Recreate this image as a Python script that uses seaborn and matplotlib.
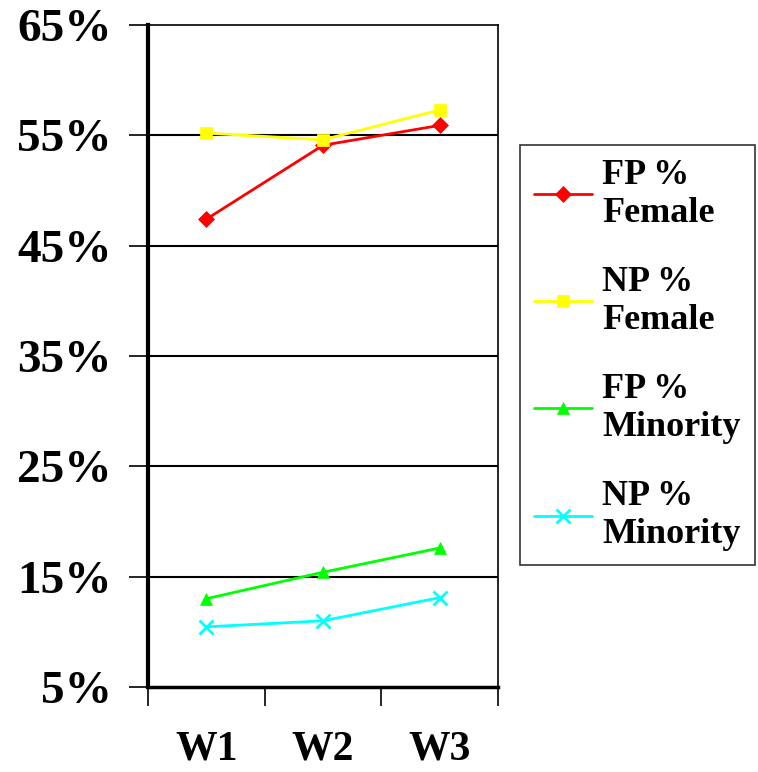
import pandas as pd
import seaborn as sns
import matplotlib.pyplot as plt

waves = ["W1", "W2", "W3"]
fp_female = [47.4, 54.1, 55.9]
np_female = [55.2, 54.6, 57.3]
fp_minority = [13.0, 15.4, 17.6]
np_minority = [10.45, 11.0, 13.1]
series_names = ["FP %\nFemale", "NP %\nFemale", "FP %\nMinority", "NP %\nMinority"]
y_ticks = [5, 15, 25, 35, 45, 55, 65]

sns.set_style("white")
plt.rcParams["font.family"] = ["Liberation Serif", "DejaVu Serif"]
plt.rcParams["font.weight"] = "bold"
plt.rcParams["text.color"] = "black"
plt.rcParams["xtick.color"] = "black"
plt.rcParams["ytick.color"] = "black"

series = [fp_female, np_female, fp_minority, np_minority]
colors = ["#ff0000", "#ffff00", "#00ff00", "#00ffff"]
markers = ["D", "s", "^", "x"]
msizes = [8, 9, 9, 10]

fig = plt.figure(figsize=(7.58, 7.72), dpi=100)
ax = fig.add_axes([148 / 758, 1 - 687 / 772, 350 / 758, 662 / 772])

for name, vals, c, m, ms in zip(series_names, series, colors, markers, msizes):
    df = pd.DataFrame({"wave": waves, "pct": vals})
    sns.lineplot(data=df, x="wave", y="pct", color=c, marker=m, markersize=ms,
                 markeredgecolor=c, markeredgewidth=2 if m == "x" else 0.5,
                 linewidth=2, label=name, ax=ax)

ax.set_xlim(-0.5, 2.5)
ax.set_ylim(5, 65)
ax.set_yticks(y_ticks)
ax.set_yticklabels([f"{t}%" for t in y_ticks])
ax.set_xlabel("")
ax.set_ylabel("")
for t in y_ticks[1:-1]:
    ax.axhline(t, color="black", linewidth=1.5, zorder=0)

ax.set_xticks([0, 1, 2])
ax.set_xticks([-0.5, 0.5, 1.5, 2.5], minor=True)
ax.tick_params(axis="x", which="major", length=0, pad=31, labelsize=30)
ax.tick_params(axis="x", which="minor", length=14, width=1.2, direction="out", bottom=True)
ax.tick_params(axis="y", length=14, width=1.2, direction="out", left=True, pad=12, labelsize=34)
for lbl in ax.get_xticklabels() + ax.get_yticklabels():
    lbl.set_fontweight("bold")

for side in ["top", "right", "bottom", "left"]:
    ax.spines[side].set_visible(True)
    ax.spines[side].set_color("black")
ax.spines["left"].set_linewidth(3)
ax.spines["bottom"].set_linewidth(2.5)
ax.spines["top"].set_linewidth(1.2)
ax.spines["right"].set_linewidth(1.2)

leg = ax.legend(loc="center left", bbox_to_anchor=(520 / 758, 1 - 355 / 772),
                bbox_transform=fig.transFigure, frameon=True, fancybox=False,
                edgecolor="black", prop={"size": 26, "weight": "bold"},
                handlelength=1.6, handletextpad=0.3, labelspacing=1.0,
                borderpad=0.38, borderaxespad=0)
leg.get_frame().set_linewidth(1.2)

plt.savefig("out.png", dpi=100)
